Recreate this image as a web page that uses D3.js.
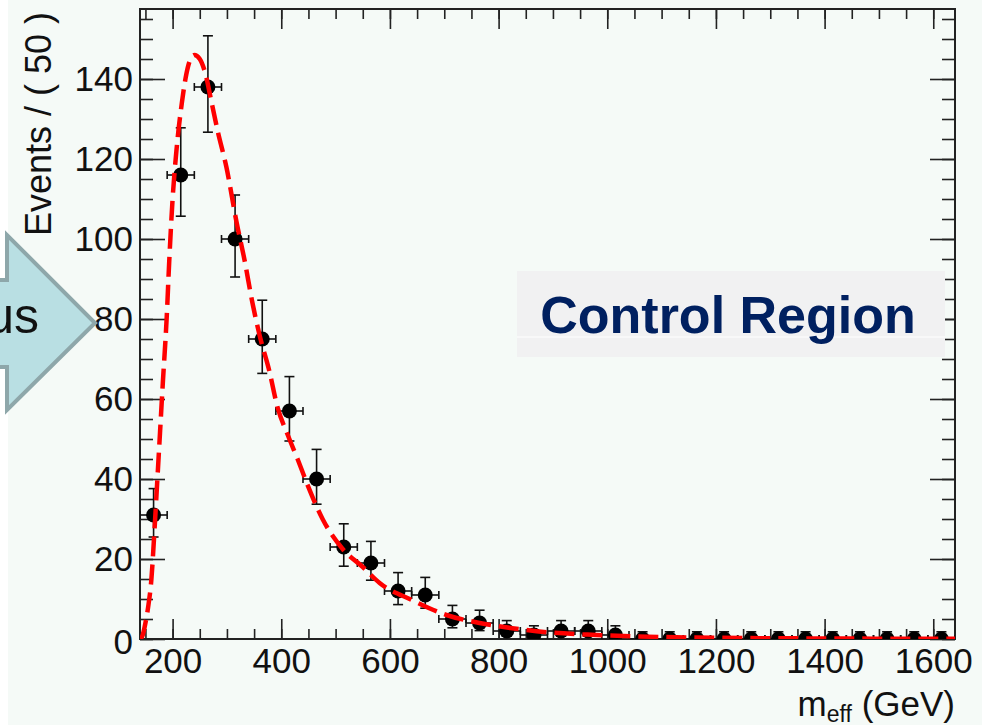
<!DOCTYPE html>
<html>
<head>
<meta charset="utf-8">
<script src="https://cdn.jsdelivr.net/npm/d3@7"></script>
<style>
  body { margin: 0; background: #ffffff; }
  svg { display: block; font-family: "Liberation Sans", Arial, sans-serif; }
</style>
</head>
<body>
<div id="chart"></div>
<script>
// DATA: bin centers (GeV), event counts and the error bars
var binCenters = [165, 215, 265, 315, 365, 415, 465, 515, 565, 615, 665, 715, 765, 815, 865,
                  915, 965, 1015, 1065, 1115, 1165, 1215, 1265, 1315, 1365, 1415, 1465, 1515, 1565, 1615];
var counts     = [31, 116, 138, 100, 75, 57, 40, 23, 19, 12, 11, 5, 4, 2, 1,
                  2, 2, 1, 0, 0, 0, 0, 0, 0, 0, 0, 0, 0, 0, 0];
var errLow     = [5.5, 10.3, 11.3, 9.5, 8.6, 7.5, 6.3, 4.8, 4.3, 3.4, 3.3, 2.2, 1.9, 1.3, 0.8,
                  1.3, 1.3, 0.8, 0, 0, 0, 0, 0, 0, 0, 0, 0, 0, 0, 0];
var errHigh    = [6.6, 11.8, 12.8, 11.0, 9.7, 8.6, 7.4, 5.8, 5.4, 4.6, 4.4, 3.4, 3.2, 2.6, 2.3,
                  2.6, 2.6, 2.3, 1.8, 1.8, 1.8, 1.8, 1.8, 1.8, 1.8, 1.8, 1.8, 1.8, 1.8, 1.8];
var binHalfWidth = 25;

// fitted pdf (red dashed)
var curveX = [141, 145, 150, 155, 161, 167, 172, 177, 182, 189, 194, 200, 207, 217, 225, 233, 240, 250,
              259, 272, 283, 299, 318, 332, 347, 360, 378, 393, 412, 430, 447, 476, 513, 550, 581,
              641, 704, 765, 825, 888, 980, 1100, 1300, 1640];
var curveY = [0, 1, 4, 8, 15, 28, 40, 52, 64, 80, 95, 110, 122, 134, 141, 145, 146, 145,
              142, 134, 127, 118, 104, 95, 84, 76, 67, 58, 51, 45, 39, 30, 22.5, 18, 14,
              9.7, 6, 4, 2.7, 1.7, 1, 0.5, 0.2, 0.05];

// axis ticks
var xMajor = [200, 400, 600, 800, 1000, 1200, 1400, 1600];
var xMinor = d3.range(150, 1640, 50);
var yMajor = [0, 20, 40, 60, 80, 100, 120, 140];
var yMinor = d3.range(0, 157, 5);

var width = 982, height = 726;
var plot = { left: 140, right: 955, top: 9, bottom: 639 };

var svg = d3.select("#chart").append("svg")
    .attr("width", width)
    .attr("height", height);

// slide background
svg.append("rect").attr("width", width).attr("height", height).attr("fill", "#ffffff");
svg.append("rect").attr("x", 8).attr("y", 0).attr("width", width - 8).attr("height", 725)
    .attr("fill", "#f5faf7");

// SCALES
var x = d3.scaleLinear().domain([140, 1640]).range([plot.left, plot.right]);
var y = d3.scaleLinear().domain([0, 157.5]).range([plot.bottom, plot.top]);

// AXES (ROOT style: ticks inside the frame, on all four sides)
function styleAxis(g) {
    g.select(".domain").remove();
    g.selectAll(".tick line").attr("stroke", "#222").attr("stroke-width", 1.6);
}

svg.append("g").attr("transform", `translate(0,${plot.bottom})`)
    .call(d3.axisBottom(x).tickValues(xMinor).tickSize(-10).tickFormat(""))
    .call(styleAxis);
svg.append("g").attr("transform", `translate(0,${plot.bottom})`)
    .call(d3.axisBottom(x).tickValues(xMajor).tickSize(-20).tickPadding(9).tickFormat(d3.format("d")))
    .call(styleAxis)
    .selectAll("text").attr("font-size", 35).attr("fill", "#111");

svg.append("g").attr("transform", `translate(0,${plot.top})`)
    .call(d3.axisTop(x).tickValues(xMinor).tickSize(-10).tickFormat(""))
    .call(styleAxis);
svg.append("g").attr("transform", `translate(0,${plot.top})`)
    .call(d3.axisTop(x).tickValues(xMajor).tickSize(-20).tickFormat(""))
    .call(styleAxis);

svg.append("g").attr("transform", `translate(${plot.left},0)`)
    .call(d3.axisLeft(y).tickValues(yMinor).tickSize(-13).tickFormat(""))
    .call(styleAxis);
svg.append("g").attr("transform", `translate(${plot.left},0)`)
    .call(d3.axisLeft(y).tickValues(yMajor).tickSize(-25).tickPadding(7).tickFormat(d3.format("d")))
    .call(styleAxis)
    .selectAll("text").attr("font-size", 35).attr("fill", "#111")
    .attr("dy", d => d === 0 ? "0.42em" : "0.34em");

svg.append("g").attr("transform", `translate(${plot.right},0)`)
    .call(d3.axisRight(y).tickValues(yMinor).tickSize(-13).tickFormat(""))
    .call(styleAxis);
svg.append("g").attr("transform", `translate(${plot.right},0)`)
    .call(d3.axisRight(y).tickValues(yMajor).tickSize(-25).tickFormat(""))
    .call(styleAxis);

// frame
svg.append("rect")
    .attr("x", plot.left).attr("y", plot.top)
    .attr("width", plot.right - plot.left).attr("height", plot.bottom - plot.top)
    .attr("fill", "none").attr("stroke", "#222").attr("stroke-width", 2);

// clip for the data + curve
svg.append("clipPath").attr("id", "plotClip").append("rect")
    .attr("x", plot.left).attr("y", plot.top)
    .attr("width", plot.right - plot.left).attr("height", plot.bottom - plot.top);

var dataRows = binCenters.map(function(c, i) {
    return { x: c, n: counts[i], lo: errLow[i], hi: errHigh[i] };
});

var pts = svg.append("g").attr("clip-path", "url(#plotClip)");
var pg = pts.selectAll("g.pt").data(dataRows).enter().append("g").attr("class", "pt");

// horizontal error bars (bin width) with end caps
pg.append("line")
    .attr("x1", d => x(d.x - binHalfWidth)).attr("x2", d => x(d.x + binHalfWidth))
    .attr("y1", d => y(d.n)).attr("y2", d => y(d.n))
    .attr("stroke", "#111").attr("stroke-width", 1.6);
pg.append("line")
    .attr("x1", d => x(d.x - binHalfWidth)).attr("x2", d => x(d.x - binHalfWidth))
    .attr("y1", d => y(d.n) - 4).attr("y2", d => y(d.n) + 4)
    .attr("stroke", "#111").attr("stroke-width", 1.6);
pg.append("line")
    .attr("x1", d => x(d.x + binHalfWidth)).attr("x2", d => x(d.x + binHalfWidth))
    .attr("y1", d => y(d.n) - 4).attr("y2", d => y(d.n) + 4)
    .attr("stroke", "#111").attr("stroke-width", 1.6);

// vertical error bars with caps
pg.append("line")
    .attr("x1", d => x(d.x)).attr("x2", d => x(d.x))
    .attr("y1", d => y(d.n + d.hi)).attr("y2", d => y(d.n - d.lo))
    .attr("stroke", "#111").attr("stroke-width", 1.6);
pg.append("line")
    .attr("x1", d => x(d.x) - 5).attr("x2", d => x(d.x) + 5)
    .attr("y1", d => y(d.n + d.hi)).attr("y2", d => y(d.n + d.hi))
    .attr("stroke", "#111").attr("stroke-width", 1.6);
pg.filter(d => d.lo > 0).append("line")
    .attr("x1", d => x(d.x) - 5).attr("x2", d => x(d.x) + 5)
    .attr("y1", d => y(d.n - d.lo)).attr("y2", d => y(d.n - d.lo))
    .attr("stroke", "#111").attr("stroke-width", 1.6);

pg.append("circle")
    .attr("cx", d => x(d.x)).attr("cy", d => y(d.n))
    .attr("r", 7.5).attr("fill", "#000");

// fitted curve, drawn on top of the data
var curveData = curveX.map((v, i) => [v, curveY[i]]);
pts.append("path")
    .datum(curveData)
    .attr("d", d3.line().x(d => x(d[0])).y(d => y(d[1])).curve(d3.curveMonotoneX))
    .attr("fill", "none")
    .attr("stroke", "#ff0000")
    .attr("stroke-width", 4.5)
    .attr("stroke-dasharray", "20,8");

// axis titles
svg.append("text")
    .attr("transform", "translate(51,12) rotate(-90)")
    .attr("text-anchor", "end")
    .attr("font-size", 36)
    .attr("fill", "#111")
    .text("Events / ( 50 )");

var xt = svg.append("text")
    .attr("x", 955).attr("y", 716)
    .attr("text-anchor", "end")
    .attr("font-size", 35)
    .attr("fill", "#111");
xt.append("tspan").text("m");
xt.append("tspan").attr("font-size", 23).attr("dy", 6).text("eff");
xt.append("tspan").attr("dy", -6).text(" (GeV)");

// "Control Region" label box
svg.append("rect")
    .attr("x", 517).attr("y", 271).attr("width", 428).attr("height", 86)
    .attr("fill", "#f1f1f2");
svg.append("line")
    .attr("x1", 517).attr("x2", 945).attr("y1", 337).attr("y2", 337)
    .attr("stroke", "#ffffff").attr("stroke-width", 1);
svg.append("text")
    .attr("x", 728).attr("y", 333)
    .attr("text-anchor", "middle")
    .attr("font-size", 52)
    .attr("font-weight", "bold")
    .attr("fill", "#002060")
    .text("Control Region");

// slide arrow coming in from the left
svg.append("polygon")
    .attr("points", "-20,280 7,280 7,235 95,323 7,410 7,367 -20,367")
    .attr("fill", "#b9dfe3")
    .attr("stroke", "#8ea7aa")
    .attr("stroke-width", 4)
    .attr("stroke-linejoin", "miter");
svg.append("text")
    .attr("x", 39).attr("y", 333)
    .attr("text-anchor", "end")
    .attr("font-size", 50)
    .attr("fill", "#111")
    .text("us");
</script>
</body>
</html>
